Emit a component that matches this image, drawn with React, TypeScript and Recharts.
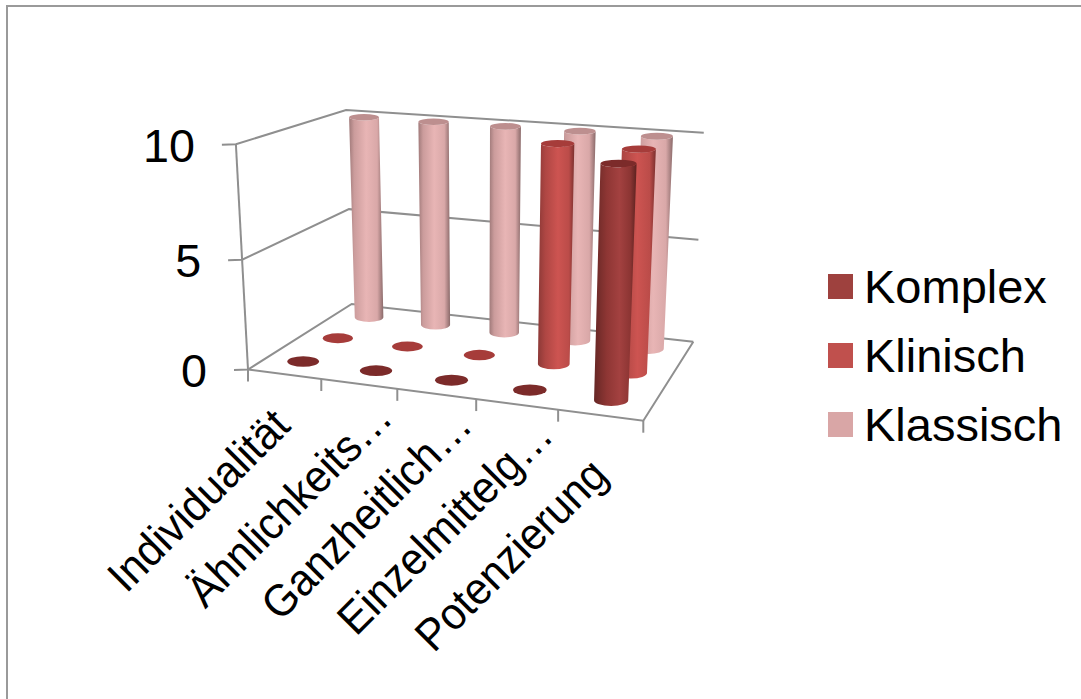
import React from 'react';
import { BarChart, Bar, XAxis, YAxis, Legend } from 'recharts';

const categories = ['Individualität', 'Ähnlichkeits…', 'Ganzheitlich…', 'Einzelmittelg…', 'Potenzierung'];
const komplex = [0, 0, 0, 0, 10];
const klinisch = [0, 0, 0, 10, 10];
const klassisch = [10, 10, 10, 10, 10];
const yTicks = [0, 5, 10];

const data = categories.map((name, i) => ({
  name,
  Komplex: komplex[i],
  Klinisch: klinisch[i],
  Klassisch: klassisch[i],
}));

const W = 1081;
const H = 699;
// plot area once the 1px axes are taken off
const PW = W - 1;
const PH = H - 1;
const FONT = '"Liberation Sans", Arial, sans-serif';
const GRID = '#8f8f8f';

// floor corners of the 3D box, front-left / front-right / back-right / back-left
const F0 = [248, 369.5];
const F1 = [643.3, 420.7];
const B1 = [693.3, 341.7];
const B0 = [351.7, 304];
const VANISH = [478, 4650];
const K = -0.05;

const dx1 = F1[0] - B1[0];
const dx2 = B0[0] - B1[0];
const sx = F0[0] - F1[0] + B1[0] - B0[0];
const dy1 = F1[1] - B1[1];
const dy2 = B0[1] - B1[1];
const sy = F0[1] - F1[1] + B1[1] - B0[1];
const det = dx1 * dy2 - dx2 * dy1;
const G = (sx * dy2 - dx2 * sy) / det;
const Q = (dx1 * sy - sx * dy1) / det;

// u along categories, w into the depth, h up the value axis, all 0..1
const project = (u: number, w: number, h: number) => {
  const weight = 1 + G * u + Q * w;
  const fx = F0[0] + (F1[0] - F0[0] + G * F1[0]) * u + (B0[0] - F0[0] + Q * B0[0]) * w;
  const fy = F0[1] + (F1[1] - F0[1] + G * F1[1]) * u + (B0[1] - F0[1] + Q * B0[1]) * w;
  const d = weight + K * h;
  return { x: (fx + K * h * VANISH[0]) / d, y: (fy + K * h * VANISH[1]) / d, scale: 1 / d };
};

const rows: Record<string, { depth: number; fill: string; top: string; grad: string }> = {
  Klassisch: { depth: 5 / 6, fill: '#d9a6a6', top: '#bd8f8f', grad: 'gradKlassisch' },
  Klinisch: { depth: 1 / 2, fill: '#c0504d', top: '#a63c3a', grad: 'gradKlinisch' },
  Komplex: { depth: 1 / 6, fill: '#9e413e', top: '#7c2b2a', grad: 'gradKomplex' },
};

const Cylinder = (props: any, series: string) => {
  const { x, width, height, index } = props;
  const row = rows[series];
  const u = (x - 1 + width / 2) / PW;
  const h = height / PH;
  const a = project(u, row.depth, 0);
  if (h <= 0) {
    return (
      <ellipse key={index} cx={a.x} cy={a.y} rx={16.2 * a.scale} ry={5.4 * a.scale} fill={row.top} />
    );
  }
  const b = project(u, row.depth, h);
  const ra = 16.2 * a.scale;
  const rb = 16.2 * b.scale;
  const ya = 5.4 * a.scale;
  const yb = (5.4 - 1.9 * h) * b.scale;
  const side = `M${b.x - rb},${b.y} L${a.x - ra},${a.y} A${ra},${ya} 0 0 0 ${a.x + ra},${a.y} L${b.x + rb},${b.y} A${rb},${yb} 0 0 1 ${b.x - rb},${b.y} Z`;
  return (
    <g key={index}>
      <path d={side} fill={`url(#${row.grad})`} />
      <ellipse cx={b.x} cy={b.y} rx={rb} ry={yb} fill={row.top} />
    </g>
  );
};

const Frame = () => {
  const n = categories.length;
  return (
    <g fill="none" stroke={GRID} strokeWidth={2}>
      {yTicks.map((t) => {
        const h = t / yTicks[yTicks.length - 1];
        const f = project(0, 0, h);
        const l = project(0, 1, h);
        const r = project(1, 1, h);
        return <polyline key={t} points={`${f.x - 14},${f.y + 0.5} ${f.x},${f.y} ${l.x},${l.y} ${r.x},${r.y}`} />;
      })}
      <line x1={project(0, 0, 0).x} y1={project(0, 0, 0).y} x2={project(0, 0, 1).x} y2={project(0, 0, 1).y} />
      <polyline points={`${F0[0]},${F0[1]} ${F1[0]},${F1[1]} ${B1[0]},${B1[1]}`} />
      {categories.concat('').map((_, i) => {
        const p = project(i / n, 0, 0);
        return <line key={i} x1={p.x} y1={p.y} x2={p.x} y2={p.y + 12} />;
      })}
    </g>
  );
};

const CategoryTick = ({ x, payload }: any) => {
  const u = (x - 1) / PW;
  const p = project(u, 0, 0);
  const drift = u * u * 18;
  const lean = u < 0.3 ? 150 * (u - 0.3) * (u - 0.3) : 0;
  const tx = p.x - 152 - drift - lean;
  const ty = p.y + 224 + drift - lean * 0.7;
  return (
    <text
      transform={`translate(${tx} ${ty}) rotate(-45) scale(0.94 1)`}
      fontFamily={FONT}
      fontSize={45}
      fill="#000"
      textAnchor="start"
    >
      {payload.value}
    </text>
  );
};

const ValueTick = ({ y, payload }: any) => {
  const p = project(0, 0, (PH - y) / PH);
  return (
    <text x={p.x - 41} y={p.y + 17.5} fontFamily={FONT} fontSize={46.7} fill="#000" textAnchor="end">
      {payload.value}
    </text>
  );
};

const LegendBox = ({ payload }: any) => (
  <div style={{ fontFamily: FONT, fontSize: 47, color: '#000' }}>
    {[...(payload || [])].reverse().map((item: any) => (
      <div key={item.value} style={{ display: 'flex', alignItems: 'center', height: 69 }}>
        <span style={{ width: 25, height: 25, background: item.color, marginRight: 11 }} />
        <span>{item.value}</span>
      </div>
    ))}
  </div>
);

const Gradient = ({ id, stops }: { id: string; stops: [string, string][] }) => (
  <linearGradient id={id} x1="0" y1="0" x2="1" y2="0">
    {stops.map(([o, c]) => (
      <stop key={o} offset={o} stopColor={c} />
    ))}
  </linearGradient>
);

export default function App() {
  return (
    <div style={{ position: 'absolute', left: 0, top: 0, width: W, height: H, overflow: 'hidden', background: '#fff' }}>
      <div style={{ position: 'absolute', left: 6, top: 5, width: W, height: H, borderTop: '2px solid #9a9a9a', borderLeft: '2px solid #9a9a9a' }} />
      <div style={{ position: 'absolute', left: 0, top: 0 }}>
        <BarChart width={W} height={H} data={data} margin={{ top: 0, right: 0, bottom: 0, left: 0 }}>
          <defs>
            <Gradient id="gradKlassisch" stops={[['0', '#a07a7a'], ['0.15', '#cb9c9c'], ['0.5', '#e8b5b5'], ['0.82', '#d9a8a8'], ['1', '#8a6a6a']]} />
            <Gradient id="gradKlinisch" stops={[['0', '#8c3937'], ['0.2', '#ae4643'], ['0.55', '#cd5451'], ['0.85', '#bb4c49'], ['1', '#7c302e']]} />
            <Gradient id="gradKomplex" stops={[['0', '#662725'], ['0.3', '#8e3634'], ['0.6', '#a34140'], ['0.85', '#8c3533'], ['1', '#5c2220']]} />
          </defs>
          <Frame />
          <XAxis xAxisId="Komplex" dataKey="name" height={1} interval={0} axisLine={false} tickLine={false} tick={CategoryTick} />
          <XAxis xAxisId="Klinisch" dataKey="name" hide />
          <XAxis xAxisId="Klassisch" dataKey="name" hide />
          <YAxis width={1} domain={[0, 10]} ticks={yTicks} interval={0} axisLine={false} tickLine={false} tick={ValueTick} />
          <Legend
            layout="horizontal"
            verticalAlign="middle"
            align="center"
            content={LegendBox}
            wrapperStyle={{ left: 828, top: 252, width: 253, right: 'auto', bottom: 'auto' }}
          />
          {['Klassisch', 'Klinisch', 'Komplex'].map((s) => (
            <Bar
              key={s}
              xAxisId={s}
              dataKey={s}
              fill={rows[s].fill}
              isAnimationActive={false}
              shape={(p: any) => Cylinder(p, s)}
            />
          ))}
        </BarChart>
      </div>
    </div>
  );
}
